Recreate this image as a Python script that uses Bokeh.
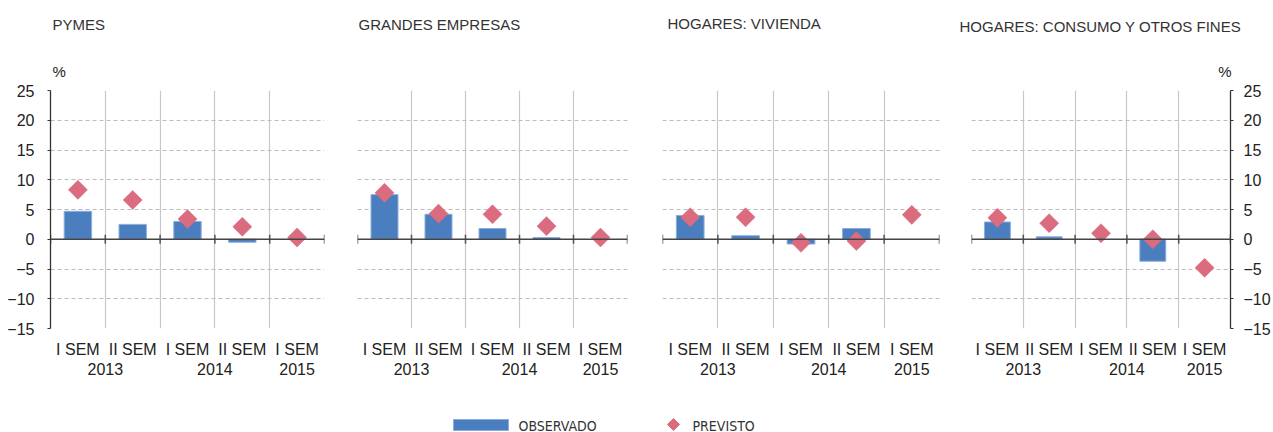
from bokeh.plotting import figure
from bokeh.models import (Range1d, FixedTicker, LinearAxis, ColumnDataSource, Span)
from bokeh.layouts import row, column
from bokeh.embed import file_html
from bokeh.resources import INLINE
from bokeh.core.properties import value
import math

# ---------------- data ----------------
positions = [1, 2, 3, 4, 5]
semesters = ["I SEM", "II SEM", "I SEM", "II SEM", "I SEM"]
year_pos = [1.5, 3.5, 5]
years = ["2013", "2014", "2015"]
y_ticks = [-15, -10, -5, 0, 5, 10, 15, 20, 25]

titles = ["PYMES", "GRANDES EMPRESAS", "HOGARES: VIVIENDA", "HOGARES: CONSUMO Y OTROS FINES"]
unit = "%"

obs_pymes = [4.7, 2.5, 3.0, -0.5, None]
pre_pymes = [8.3, 6.6, 3.4, 2.1, 0.3]

obs_grandes = [7.5, 4.2, 1.8, 0.3, None]
pre_grandes = [7.8, 4.3, 4.2, 2.2, 0.3]

obs_vivienda = [4.0, 0.6, -0.8, 1.8, None]
pre_vivienda = [3.7, 3.7, -0.6, -0.3, 4.1]

obs_consumo = [2.9, 0.4, None, -3.7, None]
pre_consumo = [3.6, 2.7, 1.0, 0.0, -4.8]

observed = [obs_pymes, obs_grandes, obs_vivienda, obs_consumo]
forecast = [pre_pymes, pre_grandes, pre_vivienda, pre_consumo]

BAR = "#4a7ebf"
BAR_EDGE = "#8aaede"
DIAM = "#db6b7e"
TXT = "#222222"
FONT = "Liberation Sans"
NARROW = "'DejaVu Sans Condensed', 'Liberation Sans Narrow', 'Roboto'"

# ---------------- layout (pixels) ----------------
W_TOTAL = 1273
# per panel: (figure width, border left, border right)
panel_layout = [(340, 50, 16), (303, 17, 16), (312, 19, 16), (318, 16, 40)]
title_xy = [(52, 24), (358, 23.5), (667, 23), (959, 25.5)]
unit_xy = [(52, 71, "left"), (1231, 71, "right")]

# ---------------- title strip ----------------
tfig = figure(width=W_TOTAL, height=80, output_backend="svg", toolbar_location=None,
              x_range=Range1d(0, W_TOTAL), y_range=Range1d(80, 0), min_border=0,
              background_fill_color="white", border_fill_color="white")
tfig.axis.visible = False
tfig.grid.visible = False
tfig.outline_line_color = None
tfig.text(x=[t[0] for t in title_xy], y=[t[1] for t in title_xy], text=titles,
          text_font=value(FONT), text_font_size="15px", text_color="#333333",
          text_baseline="middle", text_align="left")
for ux, uy, ua in unit_xy:
    tfig.text(x=[ux], y=[uy], text=[unit], text_font=value(FONT), text_font_size="15px",
              text_color=TXT, text_baseline="middle", text_align=ua)

# ---------------- panels ----------------
figs = []
for i in range(4):
    w, bl, br = panel_layout[i]
    p = figure(width=w, height=318, output_backend="svg", toolbar_location=None,
               x_range=Range1d(0.5, 5.5), y_range=Range1d(-15, 25),
               min_border_left=bl, min_border_right=br, min_border_top=10,
               min_border_bottom=70, y_axis_location="right" if i == 3 else "left",
               background_fill_color="white", border_fill_color="white")
    p.outline_line_color = None

    # grids
    p.xgrid.ticker = FixedTicker(ticks=[b + 0.5 for b in [0] + positions])
    p.xgrid.grid_line_color = "#c8c8c8"
    p.xgrid.grid_line_width = 1.2
    p.ygrid.ticker = FixedTicker(ticks=y_ticks)
    p.ygrid.grid_line_color = "#bdbdbd"
    p.ygrid.grid_line_dash = "4 3"
    p.ygrid.grid_line_width = 1

    # x axis: semesters
    xa = p.xaxis[0]
    xa.ticker = FixedTicker(ticks=positions)
    xa.major_label_overrides = {pos: s for pos, s in zip(positions, semesters)}
    xa.axis_line_color = None
    xa.major_tick_line_color = None
    xa.minor_tick_line_color = None
    xa.major_label_standoff = 6
    xa.major_label_text_font = FONT
    xa.major_label_text_font_size = "16px"
    xa.major_label_text_color = TXT

    xa2 = LinearAxis(ticker=FixedTicker(ticks=year_pos),
                     major_label_overrides={pos: y for pos, y in zip(year_pos, years)},
                     axis_line_color=None, major_tick_line_color=None,
                     minor_tick_line_color=None, major_label_standoff=-4,
                     major_label_text_font=FONT, major_label_text_font_size="16px",
                     major_label_text_color=TXT)
    p.add_layout(xa2, "below")

    # y axis
    ya = p.yaxis[0]
    if i in (0, 3):
        ya.ticker = FixedTicker(ticks=y_ticks)
        ya.axis_line_color = "#333333"
        ya.axis_line_width = 1.3
        ya.major_tick_line_color = "#333333"
        ya.major_tick_out = 3
        ya.major_tick_in = 0
        ya.minor_tick_line_color = None
        ya.major_label_standoff = 13 if i == 0 else 10
        ya.major_label_text_font = FONT
        ya.major_label_text_font_size = "16px"
        ya.major_label_text_color = TXT
    else:
        ya.visible = False

    # bars
    src_bar = ColumnDataSource(dict(x=[x for x, v in zip(positions, observed[i]) if v is not None],
                                    top=[v for v in observed[i] if v is not None]))
    p.vbar(x="x", top="top", bottom=0, width=0.5, source=src_bar,
           fill_color=BAR, line_color=BAR_EDGE, line_width=1)

    # zero line with ticks at category boundaries
    p.add_layout(Span(location=0, dimension="width", line_color="#444444", line_width=1.5))
    p.scatter(x=[b + 0.5 for b in [0] + positions], y=[0] * 6, marker="dash",
              angle=math.pi / 2, size=9, line_color="#555555", line_width=1.5)

    # forecast diamonds
    src_pre = ColumnDataSource(dict(x=positions, y=forecast[i]))
    p.scatter(x="x", y="y", source=src_pre, marker="square", angle=math.pi / 4,
              size=13.5, fill_color=DIAM, line_color=DIAM, line_width=0.5)
    figs.append(p)

# ---------------- legend strip ----------------
leg = figure(width=W_TOTAL, height=34, output_backend="svg", toolbar_location=None,
             x_range=Range1d(0, W_TOTAL), y_range=Range1d(432, 398),
             min_border=0, background_fill_color="white", border_fill_color="white")
leg.axis.visible = False
leg.grid.visible = False
leg.outline_line_color = None
leg.quad(left=[453], right=[508], top=[419], bottom=[430], fill_color=BAR, line_color=BAR_EDGE)
leg.text(x=[518], y=[425], text=["OBSERVADO"], text_font=value(NARROW),
         text_font_size="14px", text_color="#333333", text_baseline="middle")
leg.scatter(x=[673], y=[424], marker="square", angle=math.pi / 4, size=8.5,
            fill_color=DIAM, line_color=DIAM)
leg.text(x=[692], y=[425], text=["PREVISTO"], text_font=value(NARROW),
         text_font_size="14px", text_color="#333333", text_baseline="middle")

layout = column(tfig, row(*figs), leg)
open("out.html", "w").write(file_html(layout, INLINE))
